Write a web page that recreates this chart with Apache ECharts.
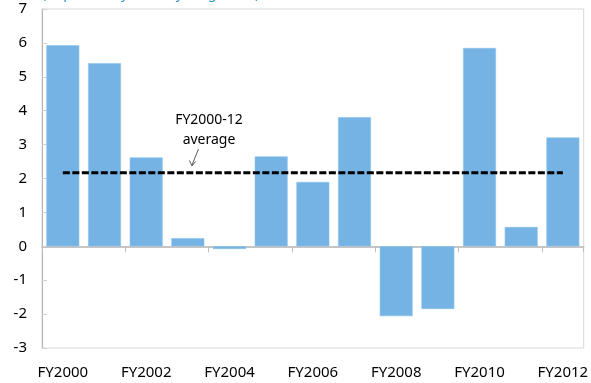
<!DOCTYPE html>
<html>
<head>
<meta charset="utf-8">
<script src="https://cdn.jsdelivr.net/npm/echarts@6/dist/echarts.min.js"></script>
<style>
  html, body { margin: 0; padding: 0; background: #ffffff; }
  #chart { width: 591px; height: 383px; }
</style>
</head>
<body>
<div id="chart"></div>
<script>
// Fiscal years on the category axis
const fiscalYears = ['FY2000', 'FY2001', 'FY2002', 'FY2003', 'FY2004', 'FY2005', 'FY2006',
                     'FY2007', 'FY2008', 'FY2009', 'FY2010', 'FY2011', 'FY2012'];
// Year-on-year growth, percent
const growth = [5.93, 5.40, 2.62, 0.24, -0.08, 2.65, 1.90, 3.81, -2.06, -1.85, 5.85, 0.57, 3.21];
// FY2000-12 average, percent
const fyAverage = 2.17;
// Value axis ticks
const yTicks = [-3, -2, -1, 0, 1, 2, 3, 4, 5, 6, 7];

const FONT = '"Noto Sans", "Open Sans", sans-serif';
const chart = echarts.init(document.getElementById('chart'));

chart.setOption({
  animation: false,
  backgroundColor: '#ffffff',
  grid: {
    left: 42, right: 3, top: 9, bottom: 35,
    show: true, borderColor: '#d9d9d9', borderWidth: 1
  },
  graphic: [
    {
      type: 'text', left: 42, top: -13,
      style: { text: '(In percent, year-on-year growth)', font: '14px ' + FONT, fill: '#2e97d3' }
    },
    {
      type: 'text', x: 209, y: 110,
      style: { text: 'FY2000-12\naverage', font: '14px ' + FONT, fill: '#000000',
               align: 'center', verticalAlign: 'top', lineHeight: 20 }
    },
    {
      type: 'line',
      shape: { x1: 198.5, y1: 149, x2: 192, y2: 165 },
      style: { stroke: '#333333', lineWidth: 0.8 }
    },
    {
      type: 'polyline',
      shape: { points: [[189.5, 160.5], [192, 166], [195.5, 161.5]] },
      style: { stroke: '#333333', lineWidth: 0.8, fill: null }
    }
  ],
  xAxis: [
    {
      type: 'category',
      data: fiscalYears,
      position: 'bottom',
      axisLine: { onZero: false, show: false },
      axisTick: { show: false },
      axisLabel: { interval: 1, margin: 17, fontSize: 15, fontFamily: FONT, color: '#000000' }
    },
    {
      type: 'category',
      data: fiscalYears,
      position: 'top',
      axisLine: { onZero: true, lineStyle: { color: '#b3b3b3', width: 1.5 } },
      axisTick: { show: true, interval: 1, inside: true, length: 6, lineStyle: { color: '#bfbfbf' } },
      axisLabel: { show: false }
    }
  ],
  yAxis: {
    type: 'value',
    min: yTicks[0],
    max: yTicks[yTicks.length - 1],
    interval: 1,
    axisLine: { show: true, lineStyle: { color: '#b3b3b3' } },
    axisTick: { show: true, length: 5, lineStyle: { color: '#d0d0d0' }, inside: true },
    splitLine: { show: false },
    axisLabel: { margin: 15, fontSize: 15, fontFamily: FONT, color: '#000000' }
  },
  series: [
    {
      type: 'bar',
      data: growth,
      xAxisIndex: 0,
      barCategoryGap: '21%',
      itemStyle: { color: '#75b3e4', borderColor: '#8cc2ec', borderWidth: 0.6 }
    },
    {
      type: 'line',
      xAxisIndex: 0,
      data: fiscalYears.map(() => fyAverage),
      symbol: 'none',
      lineStyle: { color: '#000000', width: 3, type: [7, 2.5] },
      z: 5
    }
  ]
});
</script>
</body>
</html>
